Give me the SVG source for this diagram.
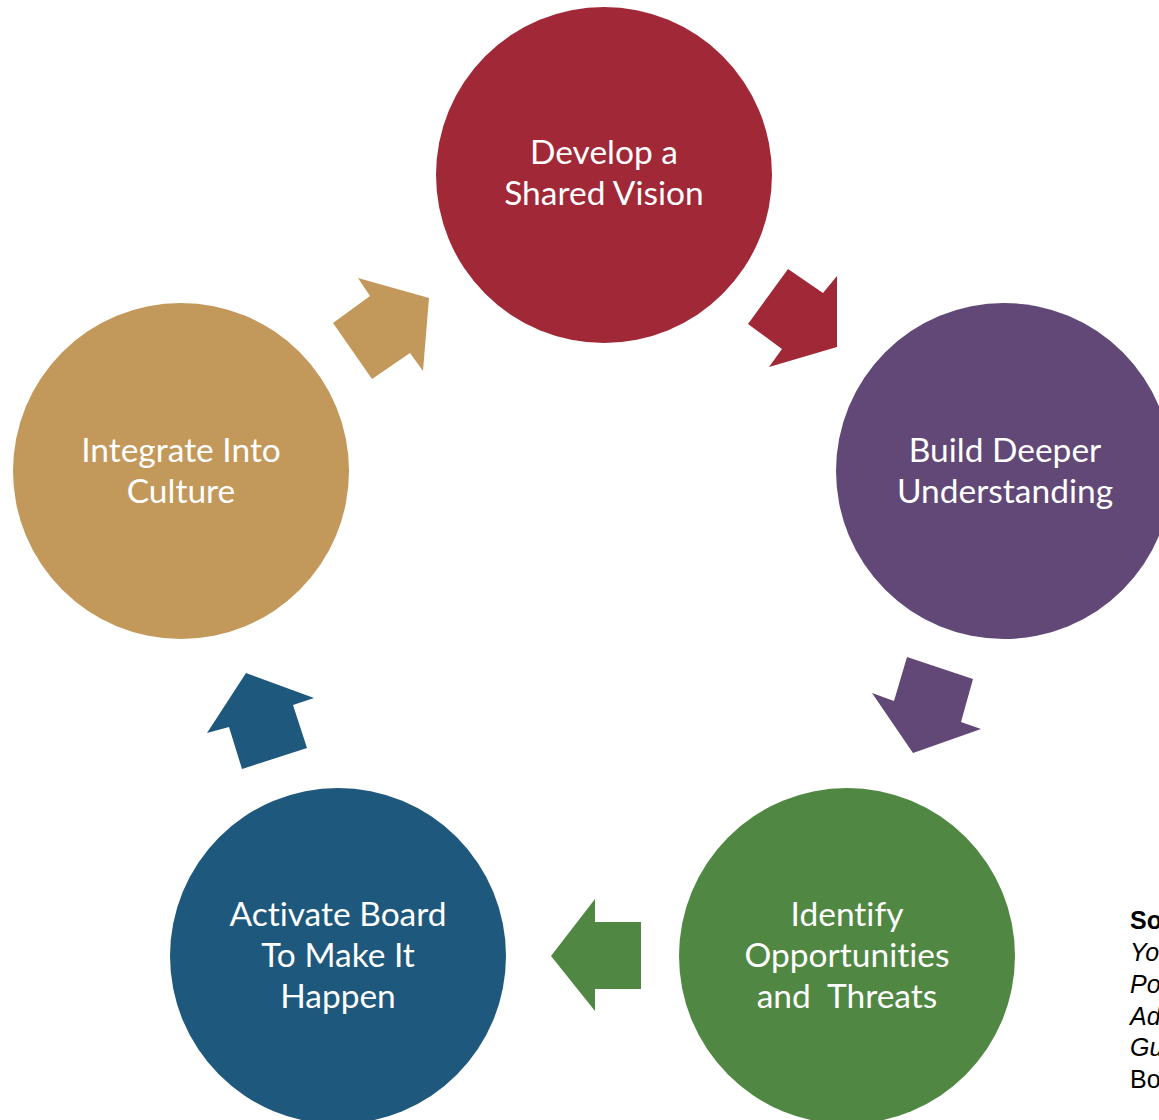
<svg xmlns="http://www.w3.org/2000/svg" width="1159" height="1120" viewBox="0 0 1159 1120">
<style>
.lbl{font-family:Lato,"Open Sans","Liberation Sans",sans-serif;font-size:33.5px;fill:#ffffff;text-anchor:middle;font-variant-ligatures:none}
.src{font-family:"Liberation Sans",Arial,sans-serif;font-size:25px;fill:#000000}
</style>
<rect width="1159" height="1120" fill="#ffffff"/>
<g id="connectors">
<polygon fill="#A02837" points="788,269 823,293 837,276 837,347 769,367 782,349 748,324"/>
<polygon fill="#614876" points="907,657 973,679 961,722 981,729 913,753 872,693 894,701"/>
<polygon fill="#508742" points="595,899 595,922 641,922 641,989 595,989 595,1011 551,956"/>
<polygon fill="#1E587C" points="246,673 314,698 293,705 307,748 242,769 229,727 207,733"/>
<polygon fill="#C3985B" points="358,278 429,298 423,371 410,353 372,379 333,323 370,296"/>
</g>
<g id="node-vision">
<circle cx="604" cy="175" r="168" fill="#A02837"/>
<text class="lbl" x="604" y="164">Develop a</text>
<text class="lbl" x="604" y="205">Shared Vision</text>
</g>
<g id="node-understanding">
<circle cx="1004" cy="471" r="168" fill="#614876"/>
<text class="lbl" x="1005" y="462">Build Deeper</text>
<text class="lbl" x="1005" y="503">Understanding</text>
</g>
<g id="node-opportunities">
<circle cx="847" cy="956" r="168" fill="#508742"/>
<text class="lbl" x="847" y="926">Identify</text>
<text class="lbl" x="847" y="967">Opportunities</text>
<text class="lbl" x="847" y="1008" xml:space="preserve">and  Threats</text>
</g>
<g id="node-activate">
<circle cx="338" cy="956" r="168" fill="#1E587C"/>
<text class="lbl" x="338" y="926">Activate Board</text>
<text class="lbl" x="338" y="967">To Make It</text>
<text class="lbl" x="338" y="1008">Happen</text>
</g>
<g id="node-culture">
<circle cx="181" cy="471" r="168" fill="#C3985B"/>
<text class="lbl" x="181" y="462">Integrate Into</text>
<text class="lbl" x="181" y="503">Culture</text>
</g>
<g id="source">
<text class="src" x="1130" y="929" font-weight="bold">So</text>
<text class="src" x="1130" y="961" font-style="italic">Yo</text>
<text class="src" x="1130" y="993" font-style="italic">Po</text>
<text class="src" x="1130" y="1025" font-style="italic">Ad</text>
<text class="src" x="1130" y="1056" font-style="italic">Gu</text>
<text class="src" x="1130" y="1088">Bo</text>
</g>
</svg>
